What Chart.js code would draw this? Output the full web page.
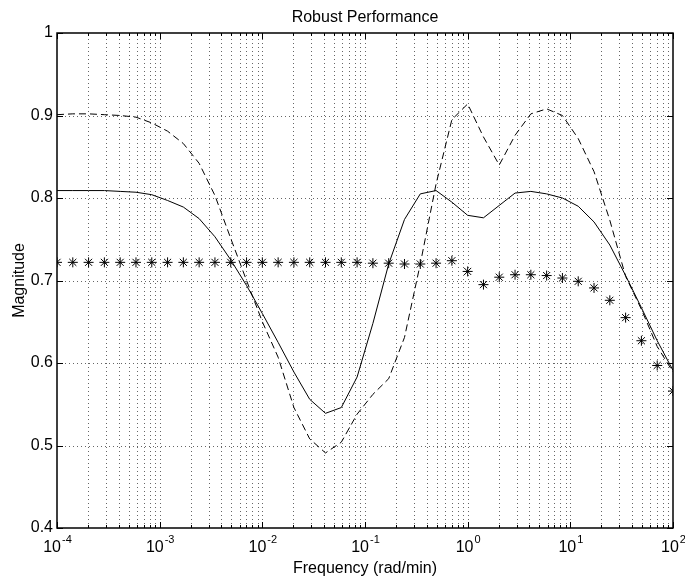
<!DOCTYPE html>
<html>
<head>
<meta charset="utf-8">
<script src="https://cdn.jsdelivr.net/npm/chart.js@4.4.1/dist/chart.umd.min.js"></script>
<style>
html, body { margin: 0; padding: 0; background: #fff; }
#quadro { width: 685px; height: 582px; }
</style>
</head>
<body>
<div id="quadro"><canvas id="grafico" width="685" height="582"></canvas></div>
<script>
// frequencias (rad/min), 40 pontos em escala log
const frequencias = [
    1e-4, 1.4251e-4, 2.0309e-4, 2.8943e-4, 4.1246e-4, 5.8780e-4, 8.3768e-4, 1.1938e-3, 1.7013e-3, 2.4245e-3, 3.4551e-3, 4.9239e-3, 7.0170e-3,
    1e-2, 1.4251e-2, 2.0309e-2, 2.8943e-2, 4.1246e-2, 5.8780e-2, 8.3768e-2, 0.11938, 0.17013, 0.24245, 0.34551, 0.49239, 0.70170,
    1, 1.4251, 2.0309, 2.8943, 4.1246, 5.8780, 8.3768, 11.938, 17.013, 24.245, 34.551, 49.239, 70.170, 100
];

const curvaSolida = [
    0.809, 0.809, 0.809, 0.809, 0.808, 0.807, 0.804, 0.797, 0.789, 0.775, 0.753, 0.725, 0.694,
    0.660, 0.625, 0.589, 0.556, 0.539, 0.546, 0.583, 0.648, 0.720, 0.774, 0.805, 0.809, 0.795,
    0.779, 0.776, 0.791, 0.806, 0.808, 0.805, 0.800, 0.790, 0.771, 0.743, 0.706, 0.667, 0.627, 0.591
];

const curvaTracejada = [
    0.901, 0.902, 0.902, 0.901, 0.900, 0.898, 0.891, 0.881, 0.866, 0.842, 0.803, 0.751, 0.700,
    0.650, 0.607, 0.546, 0.508, 0.491, 0.504, 0.538, 0.562, 0.581, 0.631, 0.720, 0.817, 0.895,
    0.914, 0.874, 0.840, 0.876, 0.902, 0.908, 0.900, 0.872, 0.832, 0.773, 0.705, 0.665, 0.620, 0.589
];

const curvaEstrelas = [
    0.722, 0.722, 0.722, 0.722, 0.722, 0.722, 0.722, 0.722, 0.722, 0.722, 0.722, 0.722, 0.722,
    0.722, 0.722, 0.722, 0.722, 0.722, 0.722, 0.722, 0.721, 0.721, 0.720, 0.720, 0.721, 0.724,
    0.711, 0.695, 0.704, 0.707, 0.707, 0.706, 0.703, 0.699, 0.691, 0.676, 0.655, 0.627, 0.597, 0.566
];

// expoentes das decadas rotuladas no eixo x
const decadas = [-4, -3, -2, -1, 0, 1, 2];

const titulo = 'Robust Performance';
const rotuloX = 'Frequency (rad/min)';
const rotuloY = 'Magnitude';

const fonte = '"Liberation Sans", Arial, Helvetica, sans-serif';
const tamFonte = 16;
const tamExpoente = 11;

function montarPontos(valores) {
    return valores.map((v, i) => ({ x: frequencias[i], y: v }));
}

function linha(ctx, x1, y1, x2, y2) {
    ctx.beginPath();
    ctx.moveTo(x1, y1);
    ctx.lineTo(x2, y2);
    ctx.stroke();
}

const pluginEixos = {
    id: 'eixos',
    beforeDatasetsDraw(chart) {
        const ctx = chart.ctx;
        const area = chart.chartArea;
        const sx = chart.scales.x;
        const sy = chart.scales.y;
        ctx.save();
        ctx.strokeStyle = '#666';
        ctx.lineWidth = 1;
        ctx.setLineDash([1, 3]);
        for (const d of decadas) {
            for (let m = 1; m < 10; m++) {
                const v = m * Math.pow(10, d);
                if (v <= sx.min * 1.0001 || v >= sx.max * 0.9999) continue;
                const px = Math.round(sx.getPixelForValue(v)) + 0.5;
                linha(ctx, px, area.bottom, px, area.top);
            }
        }
        for (const t of sy.ticks) {
            if (t.value <= sy.min + 1e-6 || t.value >= sy.max - 1e-6) continue;
            const py = Math.round(sy.getPixelForValue(t.value)) + 0.5;
            linha(ctx, area.left, py, area.right, py);
        }
        ctx.restore();
    },
    afterDraw(chart) {
        const ctx = chart.ctx;
        const area = chart.chartArea;
        const sx = chart.scales.x;
        const sy = chart.scales.y;
        ctx.save();
        ctx.strokeStyle = '#000';
        ctx.lineWidth = 1;
        ctx.setLineDash([]);

        // marcas internas do eixo x
        for (const d of decadas) {
            for (let m = 1; m < 10; m++) {
                const v = m * Math.pow(10, d);
                if (v < sx.min * 0.9999 || v > sx.max * 1.0001) continue;
                const px = Math.round(sx.getPixelForValue(v)) + 0.5;
                const tam = m === 1 ? 6 : 3;
                linha(ctx, px, area.bottom, px, area.bottom - tam);
                linha(ctx, px, area.top, px, area.top + tam);
            }
        }
        // marcas internas do eixo y
        for (const t of sy.ticks) {
            const py = Math.round(sy.getPixelForValue(t.value)) + 0.5;
            linha(ctx, area.left, py, area.left + 6, py);
            linha(ctx, area.right, py, area.right - 6, py);
        }

        // moldura
        ctx.lineWidth = 1.5;
        ctx.strokeRect(area.left, area.top, area.right - area.left, area.bottom - area.top);

        // rotulos x com expoente
        ctx.fillStyle = '#000';
        ctx.textBaseline = 'alphabetic';
        ctx.textAlign = 'left';
        for (const d of decadas) {
            const px = sx.getPixelForValue(Math.pow(10, d));
            ctx.font = tamFonte + 'px ' + fonte;
            const w1 = ctx.measureText('10').width;
            ctx.font = tamExpoente + 'px ' + fonte;
            const exp = d < 0 ? '-' + Math.abs(d) : String(d);
            const w2 = ctx.measureText(exp).width;
            const x0 = px - (w1 + w2) / 2;
            ctx.font = tamFonte + 'px ' + fonte;
            ctx.fillText('10', x0, area.bottom + 24);
            ctx.font = tamExpoente + 'px ' + fonte;
            ctx.fillText(exp, x0 + w1 + 1, area.bottom + 15);
        }

        // titulos
        const cx = (area.left + area.right) / 2;
        ctx.textAlign = 'center';
        ctx.font = tamFonte + 'px ' + fonte;
        ctx.fillText(titulo, cx, area.top - 11);
        ctx.fillText(rotuloX, cx, area.bottom + 45);
        ctx.save();
        ctx.translate(24, (area.top + area.bottom) / 2);
        ctx.rotate(-Math.PI / 2);
        ctx.fillText(rotuloY, 0, 0);
        ctx.restore();

        ctx.restore();
    }
};

new Chart(document.getElementById('grafico'), {
    type: 'line',
    data: {
        datasets: [
            {
                label: 'solida',
                data: montarPontos(curvaSolida),
                borderColor: '#000',
                borderWidth: 1,
                pointRadius: 0,
                tension: 0
            },
            {
                label: 'tracejada',
                data: montarPontos(curvaTracejada),
                borderColor: '#000',
                borderWidth: 1,
                borderDash: [7, 4],
                pointRadius: 0,
                tension: 0
            },
            {
                label: 'estrelas',
                data: montarPontos(curvaEstrelas),
                showLine: false,
                pointStyle: 'star',
                pointRadius: 5,
                borderColor: '#000',
                backgroundColor: '#000',
                borderWidth: 1
            }
        ]
    },
    options: {
        responsive: false,
        animation: false,
        devicePixelRatio: 1,
        layout: {
            padding: { top: 33, right: 12, left: 0, bottom: 0 }
        },
        plugins: {
            legend: { display: false },
            tooltip: { enabled: false },
            title: { display: false }
        },
        scales: {
            x: {
                type: 'logarithmic',
                min: 1e-4,
                max: 1e2,
                ticks: { display: false },
                grid: { display: false, drawTicks: false },
                border: { display: false },
                afterFit: function(s) { s.height = 54; }
            },
            y: {
                min: 0.4,
                max: 1,
                ticks: {
                    stepSize: 0.1,
                    color: '#000',
                    padding: 4,
                    font: { family: fonte, size: tamFonte },
                    callback: function(v) { return String(Number(v.toFixed(1))); }
                },
                grid: { display: false, drawTicks: false },
                border: { display: false },
                afterFit: function(s) { s.width = 57; }
            }
        }
    },
    plugins: [pluginEixos]
});
</script>
</body>
</html>
